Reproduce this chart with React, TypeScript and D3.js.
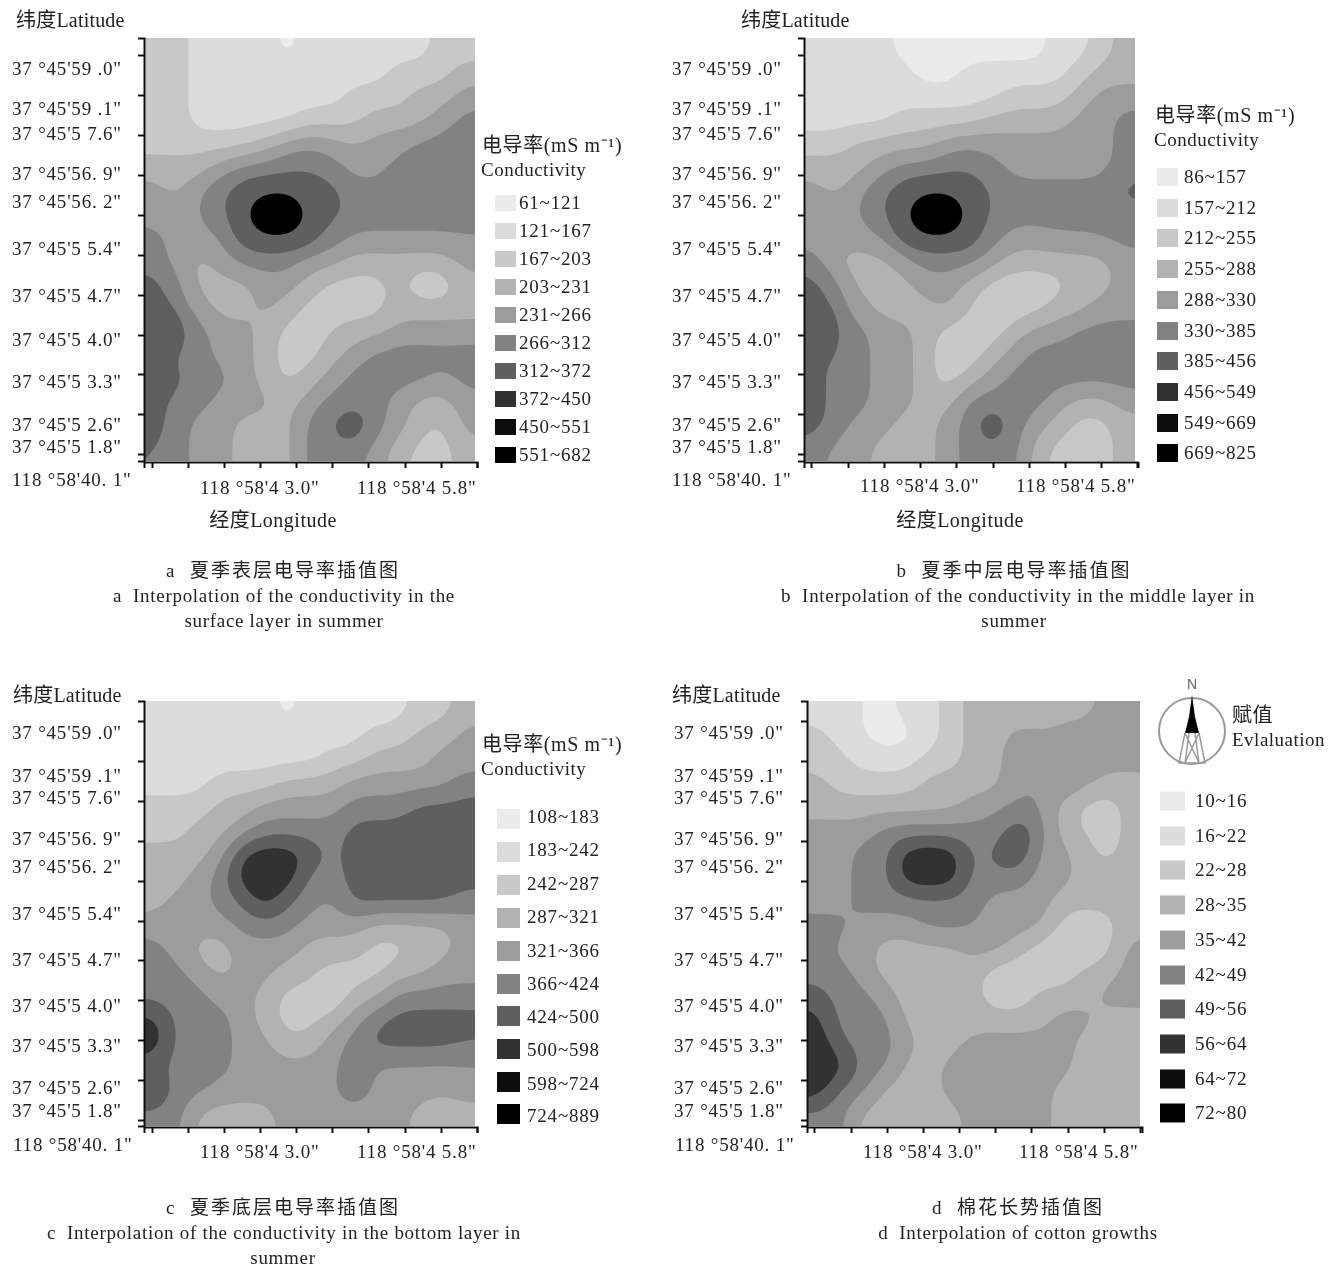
import React, { useEffect, useRef } from 'react'
import * as d3 from 'd3'

// class index (0 = lightest legend row) read from each map, 15 columns x 18 rows
// the few cells above 9 are the black cores, kept high so the smoothing does not wash them out
const gridA = [
  2,2,1,1,1,1,0,1,1,1,1,1,1,2,2,
  2,2,1,1,1,1,1,1,1,1,1,2,2,2,3,
  2,2,1,1,1,1,1,1,1,2,2,2,3,3,4,
  2,2,1,1,1,1,1,2,2,2,3,3,3,4,5,
  2,2,2,2,2,3,4,4.5,4,3.5,4,4,5,5,5,
  3,3,3,4,5,5,5.5,5.5,5,4,4,5,5,5,5,
  4,3,4.5,5.5,6,6,6,6,6,5,5,5,5,5,5,
  4,4,4.5,5.5,6,17,17,6,6,5,5,5,5,5,5,
  5,4,4,4.5,6,6,6,6,5,4.4,4.4,4.4,4.4,4.4,4.4,
  5,4,3,4,5,5,5,4,4,3,3,3,3,3,4,
  6,5,3,3,3,4,4,3,2,2,2,3,1.5,1.5,3,
  6,5,4,3,3,4,3,2,2,2,2,3,3,3,3,
  10,6,5,4,4,3,2,2,2.5,3,3,4,4,4,4,
  6,5,5,4,4,3,2,2,3,4,5,5,5,5,5,
  6,6,5,5,4,3,2,3,4,5,5,5,5,4,5,
  6,5,5,4,4,4,3,4,5,5,5,4,3,3,4,
  6,5,4,4,3,3,3,5,5.5,7,5,4,3,2,4,
  5.5,5,4,4,3,3,3,5,5,5,4,3,2,2,3,
]
const gridB = [
  1,1,1,1,0,0,0,0,0,0,0,1,1,2,3,
  1,1,1,1,1,0,0,1,1,1,1,1,2,3,3,
  1,1,1,1,1,1,1,1,1,2,2,2,3,4,4,
  1,1,1,1,2,2,2,2,3,3,3,3,4,4,5,
  2,2,3,3,3,3,4,4.5,4,4,4,4,4,4,5,
  3,3,3,4,5,5,5.5,5.5,5,4,4,4,4,4,5,
  4,3,4.5,5.5,6,6,6,6,5.5,5,5,5,5,5,6,
  4,4,4.5,5.5,6,17,17,6,5.5,5,5,5,5,5,5,
  4,4,4,4.5,6,6,6,6,5,4,4,4.4,4.4,4.6,5,
  5,3,3,3,4,5,5,5,4,3,3,3,3,3,4,
  6,5,3,3,3,4,4,3,2,1.7,1.7,2,3,3,4,
  6,5,4,3,3,3,4,2.5,1.7,1.7,2,3,3,4,4,
  10,5,5,4,4,3,2,1.7,1.7,3,4,4,5,5,5,
  6,5,5,4,4,3,1.7,1.7,3,4,5,5,5,5,5,
  6,5,5,4,4,3,1.7,3,4,5,5,5,5,5,5,
  6,5,5,4,4,3,3,5,5,5,5,4,3,3,4,
  6,5,4,4,3,3,4,5,7,5,4,3,2,2,3,
  5,4,4,3,3,3,4,5,5,5,3,2,2,2,3,
]
const gridC = [
  1,1,1,1,1,1,0,1,1,1,1,1,2,2,3,
  1,1,1,1,1,1,1,1,1,1,2,2,3,3,4,
  1,1,1,1,1,1,1,1,2,2,3,3,3,4,4,
  1,1,1,2,2,2,3,3,3,4,4,4,4,4,5,
  2,2,2,3,3,4,4,4,4,5,5,5,6,6,6,
  2,2,3,3,4,5,5,5,5,6,6,6,6,6,6,
  3,3,3,4,7,7.4,7.4,6.5,5,6,6,6,6,6,6,
  3,3,4,5,7.4,7.4,7.4,5,5,6,6,6,6,6,6,
  3,4,4,5,5.5,7.4,5.5,5,4,6,6,6,6,6,5,
  4,4,4,4,5,5,5,4,4,4,3,3,3,3,4,
  5,4,3,2.7,4,4,4,3,3,3,2,2,3,3,4,
  5,5,4,3,4,4,3,3,2,2,2,3,3,4,4,
  5,5,5,4,4,3,2,2,1,3,3,5,5,5,5,
  7,5,5,5,4,3,2,2,3,4,5.5,6,6,6,6,
  7.5,5,5,5,4,4,2.5,3,4,5,6,6,6,6,5.5,
  5.5,5,5,5,4,4,4,4,4,5.5,4.2,4.2,4.2,4.2,4.4,
  7,5,5,4,4,4,4,4,4.2,5.5,4.2,4,4,3.5,4,
  5,5,3,3,3,3,4,4,4,4,4,4,3,3,3,
]
const gridD = [
  1,1,0.5,0,1,1,2,3,3,3,3,3,3,4,4,
  2,1,0.5,0,0,1,2,3,3,4,3.5,4,4.5,4,4.5,
  2,2,1,1,1,2,2,3,3,4.5,4.5,4.5,4.5,4,4,
  3,2,2,2,2,3,3,3,3,4.5,4.5,4.5,4,3,3,
  3,3,3,3,3,3,3,4,4.5,4.5,4.5,3,2,1.7,3,
  4,4,4,5,5,5,5,5,4.5,7,5,3,2.5,1.7,3,
  4,4,5,5,7.4,7.4,7.4,5,6,7,4,4,3,2,3,
  4,4,5,5,7.4,7.4,7.4,5,5,5,4,4,3,3,3,
  4,4,5,5,5,5,5,5,4,4,4,3,3,3,3,
  5,5,4,4,4,5,5,4.5,4,4,4,2,1.5,2,3,
  5,4,4,3,3,3,3,4,4,3,1.7,1.7,1.5,2,4,
  5,5,4,3,3,3,3,3,1.7,1.7,1.7,1.7,3,3,4,
  6,5,5,4,3,3,3,3,1.7,1.7,3,3,3,4,4,
  7,5,5,5,3,3,3,3,3,3,3,4,4,3,3,
  7.4,5.5,5,5,4,3,3,4,4,4,4,4,3,3,3,
  7.4,7.4,5,5,3,3,4,4,4,4,4,4,3,3,3,
  7.4,5,5,3,3,3,4,4,4,4,4,3,3,3,3,
  5,5,3,3,3,3,3,4,4,4,4,3,3,3,3,
]
const gridCols = 15
const gridRows = 18

const classesA = ['61~121','121~167','167~203','203~231','231~266','266~312','312~372','372~450','450~551','551~682']
const classesB = ['86~157','157~212','212~255','255~288','288~330','330~385','385~456','456~549','549~669','669~825']
const classesC = ['108~183','183~242','242~287','287~321','321~366','366~424','424~500','500~598','598~724','724~889']
const classesD = ['10~16','16~22','22~28','28~35','35~42','42~49','49~56','56~64','64~72','72~80']

const latLabels = ['37 °45\'59 .0"','37 °45\'59 .1"','37 °45\'5 7.6"','37 °45\'56. 9"','37 °45\'56. 2"','37 °45\'5 5.4"','37 °45\'5 4.7"','37 °45\'5 4.0"','37 °45\'5 3.3"','37 °45\'5 2.6"','37 °45\'5 1.8"']
const lonStart = '118 °58\'40. 1"'
const lonMid = '118 °58\'4 3.0"'
const lonEnd = '118 °58\'4 5.8"'

const classColors = ['#ebebeb','#dcdcdc','#c8c8c8','#b2b2b2','#9c9c9c','#828282','#5e5e5e','#303030','#080808','#000000']
// a and b jump straight from the dark ring to black, no 7 and 8 band shows on the map
const jumpColors = classColors.map((c, i) => (i === 7 || i === 8 ? classColors[6] : c))
const SERIF = '"Liberation Serif","Noto Sans CJK SC",serif'
const NB = '\u00a0\u00a0'

const panels = [
  { id:'a', grid:gridA, classes:classesA, mapColors:jumpColors, x0:144, x1:475, y0:38, y1:461,
    latY:[68,108,133,173,201,248,295,339,381,424,446], latX:12, latTitle:[16,20], tickY:[55,95,135,175,215,255,295,335,374,414,454],
    tickX:[152,188,224,260,296,332,368,405,441,477], lon:[[12,479],[200,487],[357,487]], lonTitle:[273,520],
    legTitle:[482,145], legSub:[481,169], swX:[495,516], swH:16, swY:[203,231,259,287,315,343,371,399,427,455], legX:519,
    cap:[[283,570,'a' + NB + '夏季表层电导率插值图',2],[284,595,'a' + NB + 'Interpolation of the conductivity in the',0.7],[284,620,'surface layer in summer',0.7]] },
  { id:'b', grid:gridB, classes:classesB, mapColors:jumpColors, x0:804, x1:1135, y0:38, y1:461,
    latY:[68,108,133,173,201,248,295,339,381,424,446], latX:672, latTitle:[741,20], tickY:[55,95,135,175,215,255,295,335,374,414,454],
    tickX:[811,848,884,920,956,993,1029,1065,1101,1138], lon:[[672,479],[860,485],[1016,485]], lonTitle:[960,520],
    legTitle:[1155,115], legSub:[1154,139], swX:[1157,1178], swH:18, swY:[177,208,238,269,300,331,361,392,423,453], legX:1184,
    cap:[[1014,570,'b' + NB + '夏季中层电导率插值图',2],[1018,595,'b' + NB + 'Interpolation of the conductivity in the middle layer in',0.7],[1014,620,'summer',0.7]] },
  { id:'c', grid:gridC, classes:classesC, mapColors:classColors, x0:144, x1:475, y0:701, y1:1126,
    latY:[732,775,797,838,866,913,959,1005,1045,1087,1110], latX:12, latTitle:[13,695], tickY:[721,761,801,841,881,921,960,1000,1040,1080,1120],
    tickX:[152,188,224,260,296,332,368,405,441,477], lon:[[13,1144],[200,1151],[357,1151]], lonTitle:null,
    legTitle:[482,744], legSub:[481,768], swX:[497,520], swH:20, swY:[819,852,885,918,951,984,1016,1049,1082,1114], legX:527,
    cap:[[283,1207,'c' + NB + '夏季底层电导率插值图',2],[284,1232,'c' + NB + 'Interpolation of the conductivity in the bottom layer in',0.7],[283,1257,'summer',0.7]] },
  { id:'d', grid:gridD, classes:classesD, mapColors:classColors, x0:807, x1:1140, y0:701, y1:1126,
    latY:[732,775,797,838,866,913,959,1005,1045,1087,1110], latX:674, latTitle:[672,695], tickY:[721,761,801,841,881,921,960,1000,1040,1080,1120],
    tickX:[814,851,887,923,959,995,1031,1068,1104,1140], lon:[[675,1144],[863,1151],[1019,1151]], lonTitle:null,
    legTitle:null, legSub:null, swX:[1160,1185], swH:19, swY:[801,836,870,905,940,975,1009,1044,1079,1113], legX:1195,
    cap:[[1018,1207,'d' + NB + '棉花长势插值图',2],[1018,1232,'d' + NB + 'Interpolation of cotton growths',0.7]] },
]

function label(g: any, x: number, y: number, text: string, size = 19, anchor = 'start', spacing = 0.8) {
  return g.append('text')
    .attr('x', x).attr('y', y).attr('dy', '0.35em')
    .attr('text-anchor', anchor)
    .attr('font-family', SERIF).attr('font-size', size)
    .attr('letter-spacing', spacing)
    .attr('fill', '#222')
    .text(text)
}

// nearest upsample with repeated edges, then a blur so the class borders come out round
const UP = 6
const PAD = 2
function fineField(grid: number[]) {
  const width = (gridCols + PAD * 2) * UP
  const height = (gridRows + PAD * 2) * UP
  const data = new Float64Array(width * height)
  for (let y = 0; y < height; y++) {
    const jj = Math.max(0, Math.min(gridRows - 1, Math.floor(y / UP) - PAD))
    for (let x = 0; x < width; x++) {
      const ii = Math.max(0, Math.min(gridCols - 1, Math.floor(x / UP) - PAD))
      data[y * width + x] = grid[jj * gridCols + ii]
    }
  }
  d3.blur2({ data, width, height }, 3)
  return { data, width, height }
}

function drawPanel(svg: any, p: any) {
  const g = svg.append('g')
  const w = p.x1 - p.x0, h = p.y1 - p.y0

  const field = fineField(p.grid)
  const contours = d3.contours()
    .size([field.width, field.height])
    .thresholds(d3.range(0.5, 9.5, 1))(Array.from(field.data))
  const xs = d3.scaleLinear().domain([PAD * UP, (gridCols + PAD) * UP]).range([p.x0, p.x1])
  const ys = d3.scaleLinear().domain([PAD * UP, (gridRows + PAD) * UP]).range([p.y0, p.y1])
  const path = d3.geoPath(d3.geoTransform({
    point(x: number, y: number) { (this as any).stream.point(xs(x), ys(y)) },
  }))

  svg.append('clipPath').attr('id', 'clip-' + p.id)
    .append('rect').attr('x', p.x0).attr('y', p.y0).attr('width', w).attr('height', h)
  const map = g.append('g').attr('clip-path', 'url(#clip-' + p.id + ')')
  map.append('rect').attr('x', p.x0).attr('y', p.y0).attr('width', w).attr('height', h).attr('fill', classColors[0])
  map.selectAll('path').data(contours).enter().append('path')
    .attr('d', path as any)
    .attr('fill', (_: any, i: number) => p.mapColors[i + 1])

  // axes: the tick spacing is the original figure's, labels are placed on their own
  const left = d3.axisLeft(d3.scaleLinear().domain([p.y0, p.y1]).range([p.y0, p.y1]))
    .tickValues(p.tickY).tickSize(6).tickFormat(() => '')
  const bottom = d3.axisBottom(d3.scaleLinear().domain([p.x0, p.x1 + 2]).range([p.x0, p.x1 + 2]))
    .tickValues(p.tickX).tickSize(6).tickFormat(() => '')
  g.append('g').attr('transform', `translate(${p.x0},0)`).call(left)
    .call((a: any) => a.selectAll('path,line').attr('stroke', '#111').attr('stroke-width', 2))
  g.append('g').attr('transform', `translate(0,${p.y1 + 1})`).call(bottom)
    .call((a: any) => a.selectAll('path,line').attr('stroke', '#111').attr('stroke-width', 2))

  latLabels.forEach((t, i) => label(g, p.latX, p.latY[i], t))
  label(g, p.lon[0][0], p.lon[0][1], lonStart)
  label(g, p.lon[1][0], p.lon[1][1], lonMid)
  label(g, p.lon[2][0], p.lon[2][1], lonEnd)
  label(g, p.latTitle[0], p.latTitle[1], '纬度Latitude', 20, 'start', 0.2)
  if (p.lonTitle) label(g, p.lonTitle[0], p.lonTitle[1], '经度Longitude', 20, 'middle', 0.5)

  if (p.legTitle) {
    label(g, p.legTitle[0], p.legTitle[1], '电导率(mS m⁻¹)', 20, 'start', 0.6)
    label(g, p.legSub[0], p.legSub[1], 'Conductivity', 19, 'start', 0.5)
  }
  p.classes.forEach((t: string, i: number) => {
    g.append('rect')
      .attr('x', p.swX[0]).attr('y', p.swY[i] - p.swH / 2)
      .attr('width', p.swX[1] - p.swX[0]).attr('height', p.swH)
      .attr('fill', classColors[i])
    label(g, p.legX, p.swY[i] - (p.id === 'c' ? 3 - i * 0.5 : 1), t, 19, 'start', 0.8)
  })
  p.cap.forEach((c: any) => label(g, c[0], c[1], c[2], 19, 'middle', c[3]))
}

function drawCompass(svg: any) {
  const g = svg.append('g').attr('transform', 'translate(1192,731)')
  g.append('circle').attr('r', 33).attr('fill', 'none').attr('stroke', '#9a9a9a').attr('stroke-width', 2)
  g.append('path').attr('d', 'M0,-36L3,-14L7,2L-7,2L-3,-14Z').attr('fill', '#000')
  g.append('path').attr('d', 'M-7,2L-13,32L13,32L7,2M-3,2L-7,32M3,2L7,32M-7,2L7,32M7,2L-7,32')
    .attr('fill', 'none').attr('stroke', '#999').attr('stroke-width', 1.5)
  label(g, 0, -47, 'N', 14, 'middle', 0).attr('font-family', '"Liberation Sans",sans-serif').attr('fill', '#666')
}

export default function App() {
  const ref = useRef<SVGSVGElement>(null)
  useEffect(() => {
    const svg = d3.select(ref.current)
    svg.selectAll('*').remove()
    // the source figure is a slightly soft scan
    svg.append('filter').attr('id', 'soft').append('feGaussianBlur').attr('stdDeviation', 0.45)
    const root = svg.append('g').attr('filter', 'url(#soft)')
    panels.forEach((p) => drawPanel(root, p))
    drawCompass(root)
    label(root, 1232, 715, '赋值', 20, 'start', 0.5)
    label(root, 1232, 739, 'Evlaluation', 19, 'start', 0.5)
  }, [])
  return <svg ref={ref} width={1329} height={1267} style={{ position: 'absolute', left: 0, top: 0, background: '#fff' }} />
}
